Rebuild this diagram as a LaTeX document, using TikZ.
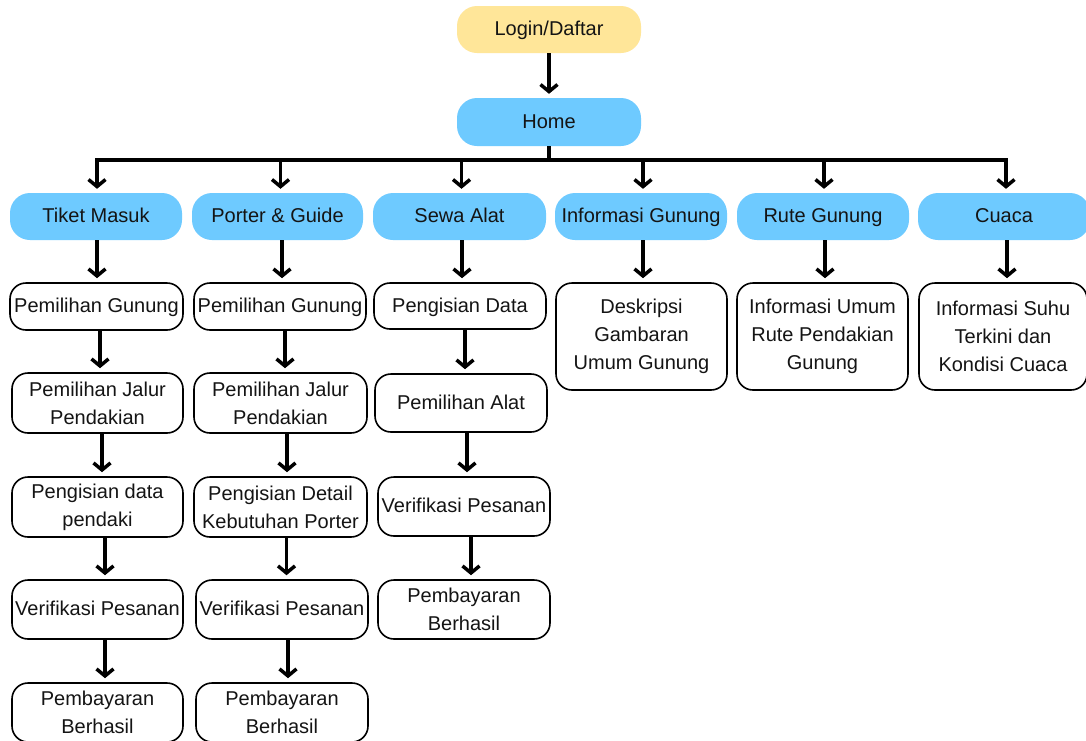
\documentclass[tikz,border=0pt]{standalone}
\usepackage{fontspec}
\setmainfont{Liberation Sans}
\usetikzlibrary{arrows.meta}
\definecolor{ylw}{RGB}{255,230,153}
\definecolor{blu}{RGB}{110,202,255}
\definecolor{txt}{RGB}{20,20,20}
\begin{document}
\begin{tikzpicture}[x=1pt,y=-1pt,
  font=\fontsize{20}{28}\selectfont, text=txt,
  one/.style={text height=14pt, text depth=2pt},
  head/.style={fill=blu, rounded corners=20pt, minimum width=172pt, minimum height=47pt, inner sep=0pt, align=center, one},
  sub/.style={draw=black, line width=1.6pt, fill=white, rounded corners=16pt, inner sep=0pt, align=center, minimum width=172pt},
  arr/.style={line width=3.5pt, -{Straight Barb[length=7pt,width=17pt]}, shorten >=4pt},
  barline/.style={line width=3.5pt}]
\useasboundingbox (0,0) rectangle (1086,740);
\clip (0,0) rectangle (1086,740);
\fill[white] (0,0) rectangle (1086,740);
% top
\node[head, fill=ylw, minimum width=184pt] (login) at (549,29.5) {Login/Daftar};
\node[head, minimum width=184pt, minimum height=48pt] (home) at (549,122) {Home};
\draw[arr] (login.south) -- (home.north);
% level 1
\node[head] (tiket) at (96,216.5) {Tiket Masuk};
\node[head, minimum width=171pt] (porter) at (277.5,216.5) {Porter \& Guide};
\node[head, minimum width=173pt] (sewa) at (459.5,216.5) {Sewa Alat};
\node[head] (info) at (641,216.5) {Informasi Gunung};
\node[head] (rute) at (823,216.5) {Rute Gunung};
\node[head] (cuaca) at (1004,216.5) {Cuaca};
\coordinate (barM) at (549,160);
\coordinate (barL) at (97,160);
\coordinate (barR) at (1006,160);
\draw[barline] (home.south) -- (barM);
\draw[barline, line cap=rect] (barL) -- (barR);
\draw[arr] ([xshift=1pt]tiket.north |- barM) -- ([xshift=1pt]tiket.north);
\draw[arr] ([xshift=3pt]porter.north |- barM) -- ([xshift=3pt]porter.north);
\draw[arr] ([xshift=2pt]sewa.north |- barM) -- ([xshift=2pt]sewa.north);
\draw[arr] ([xshift=2pt]info.north |- barM) -- ([xshift=2pt]info.north);
\draw[arr] ([xshift=1pt]rute.north |- barM) -- ([xshift=1pt]rute.north);
\draw[arr] ([xshift=2pt]cuaca.north |- barM) -- ([xshift=2pt]cuaca.north);
% column 1
\node[sub, one, minimum width=173pt, minimum height=47pt] (g1) at (96.5,306.5) {Pemilihan Gunung};
\node[sub, minimum width=171pt, minimum height=60pt] (j1) at (97.5,403) {Pemilihan Jalur\\Pendakian};
\node[sub, minimum width=171pt, minimum height=60pt] (p1) at (97.5,507) {Pengisian data\\pendaki};
\node[sub, one, minimum width=171pt, minimum height=59pt] (v1) at (97.5,609.5) {Verifikasi Pesanan};
\node[sub, minimum width=171pt, minimum height=59pt] (b1) at (97.5,712.5) {Pembayaran\\Berhasil};
\draw[arr] ([xshift=1pt]tiket.south) -- ([xshift=1pt]tiket.south |- g1.north);
\draw[arr] ([xshift=3.5pt]g1.south) -- ([xshift=3.5pt]g1.south |- j1.north);
\draw[arr] ([xshift=4.5pt]j1.south) -- ([xshift=4.5pt]j1.south |- p1.north);
\draw[arr] ([xshift=7.5pt]p1.south) -- ([xshift=7.5pt]p1.south |- v1.north);
\draw[arr] ([xshift=7.5pt]v1.south) -- ([xshift=7.5pt]v1.south |- b1.north);
% column 2
\node[sub, one, minimum width=172pt, minimum height=47pt] (g2) at (280,306.5) {Pemilihan Gunung};
\node[sub, minimum width=173pt, minimum height=60pt] (j2) at (280.5,403) {Pemilihan Jalur\\Pendakian};
\node[sub, minimum width=173pt, minimum height=60pt] (p2) at (280.5,507) {Pengisian Detail\\Kebutuhan Porter};
\node[sub, one, minimum width=172pt, minimum height=59pt] (v2) at (282,609.5) {Verifikasi Pesanan};
\node[sub, minimum width=172pt, minimum height=59pt] (b2) at (282,712.5) {Pembayaran\\Berhasil};
\draw[arr] ([xshift=4.5pt]porter.south) -- ([xshift=4.5pt]porter.south |- g2.north);
\draw[arr] ([xshift=5pt]g2.south) -- ([xshift=5pt]g2.south |- j2.north);
\draw[arr] ([xshift=6.5pt]j2.south) -- ([xshift=6.5pt]j2.south |- p2.north);
\draw[arr] ([xshift=6pt]p2.south) -- ([xshift=6pt]p2.south |- v2.north);
\draw[arr] ([xshift=6pt]v2.south) -- ([xshift=6pt]v2.south |- b2.north);
% column 3
\node[sub, one, minimum width=172pt, minimum height=46pt] (d3) at (460,306) {Pengisian Data};
\node[sub, one, minimum width=172pt, minimum height=58pt] (a3) at (461,403) {Pemilihan Alat};
\node[sub, one, minimum width=172pt, minimum height=59pt] (v3) at (464,506.5) {Verifikasi Pesanan};
\node[sub, minimum width=172pt, minimum height=59pt] (b3) at (464,609.5) {Pembayaran\\Berhasil};
\draw[arr] ([xshift=2.5pt]sewa.south) -- ([xshift=2.5pt]sewa.south |- d3.north);
\draw[arr] ([xshift=5pt]d3.south) -- ([xshift=5pt]d3.south |- a3.north);
\draw[arr] ([xshift=6pt]a3.south) -- ([xshift=6pt]a3.south |- v3.north);
\draw[arr] ([xshift=7pt]v3.south) -- ([xshift=7pt]v3.south |- b3.north);
% columns 4-6
\node[sub, minimum width=171pt, minimum height=107pt] (i4) at (641.5,336.5) {Deskripsi\\Gambaran\\Umum Gunung};
\node[sub, minimum width=171pt, minimum height=107pt] (r5) at (822.5,336.5) {Informasi Umum\\Rute Pendakian\\Gunung};
\node[sub, minimum width=168pt, minimum height=107pt] (c6) at (1003,336.5) {Informasi Suhu\\Terkini dan\\Kondisi Cuaca};
\draw[arr] ([xshift=2pt]info.south) -- ([xshift=2pt]info.south |- i4.north);
\draw[arr] ([xshift=2pt]rute.south) -- ([xshift=2pt]rute.south |- r5.north);
\draw[arr] ([xshift=3pt]cuaca.south) -- ([xshift=3pt]cuaca.south |- c6.north);
\end{tikzpicture}
\end{document}
